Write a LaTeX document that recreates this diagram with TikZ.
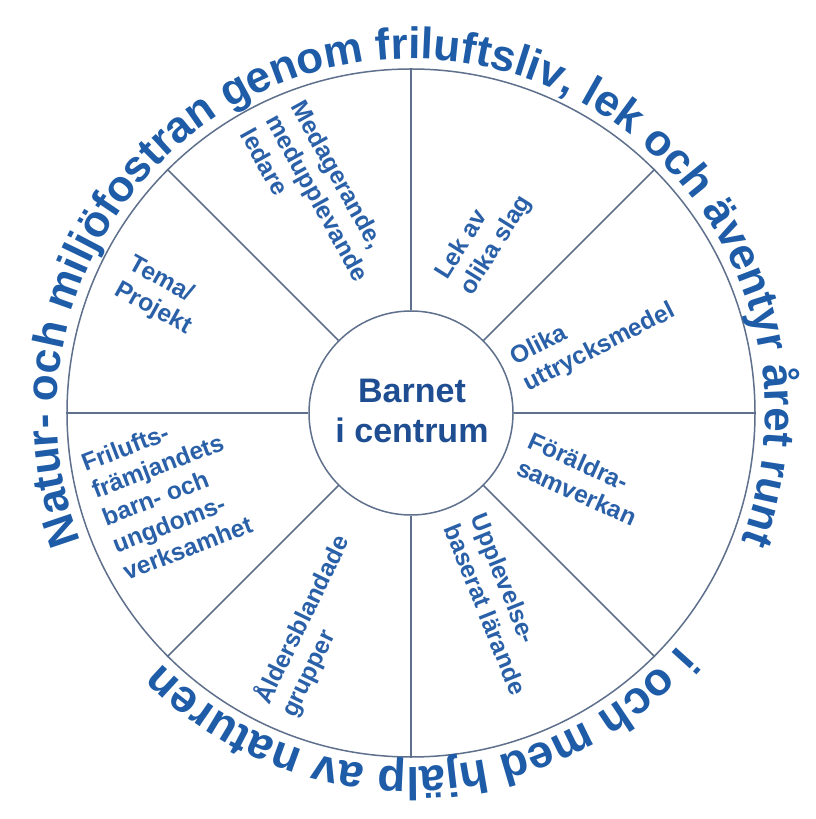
\documentclass[tikz,border=0pt]{standalone}
\usepackage{fontspec}
\setmainfont{Liberation Sans}
\usetikzlibrary{decorations.text}
\definecolor{ringblue}{RGB}{30,92,168}
\definecolor{lblblue}{RGB}{42,96,168}
\definecolor{ctrblue}{RGB}{30,78,145}
\definecolor{linegray}{RGB}{95,112,140}
\begin{document}
\begin{tikzpicture}[x=1pt,y=1pt,
  wheel/.style={circle, draw=linegray, line width=1.5pt, inner sep=0pt},
  spoke/.style={draw=linegray, line width=1.5pt},
  lbl/.style={font=\bfseries\fontsize{24.5}{29}\selectfont, text=lblblue, align=left, inner sep=0pt},
  ctr/.style={font=\bfseries\fontsize{34}{40}\selectfont, text=ctrblue, align=center}
]
\useasboundingbox (0,0) rectangle (815,819);
\fill[white] (0,0) rectangle (815,819);
\coordinate (C) at (411,406);
\node[wheel, minimum size=688pt] (outer) at (C) {};
\node[wheel, minimum size=204pt] (hub) at (C) {};
\node[ctr] (ctrtext) at (412,408) {Barnet\\i centrum};
\foreach \a in {0,45,...,315} \draw[spoke] (hub.\a) -- (outer.\a);

% ring texts
\path[decorate, decoration={text along path, text align=center,
  text={|\bfseries\fontsize{44}{44}\selectfont\color{ringblue}|Natur- och miljöfostran genom friluftsliv, lek och äventyr året runt}}]
  ([shift={(205:354)}]C) arc[start angle=205, end angle=-25, radius=354];
\path[decorate, decoration={text along path, text align=center,
  text={|\bfseries\fontsize{46}{46}\selectfont\color{ringblue}|i och med hjälp av naturen}}]
  ([shift={(-30:354)}]C) arc[start angle=-30, end angle=-146, radius=354];

% sector labels
\node[lbl, rotate=-61] (l1) at (318,621) {Medagerande,\\medupplevande\\ledare};
\node[lbl, rotate=58]  (l2) at (484,581) {Lek av\\olika slag};
\node[lbl, rotate=27]  (l3) at (593,484) {Olika\\uttrycksmedel};
\node[lbl, rotate=-24] (l4) at (583,340) {Föräldra-\\samverkan};
\node[lbl, rotate=-68] (l5) at (499,215) {Upplevelse-\\baserat lärande};
\node[lbl, rotate=64]  (l6) at (315,193) {Åldersblandade\\grupper};
\node[lbl, rotate=21]  (l7) at (168,326) {Frilufts-\\främjandets\\barn- och\\ungdoms-\\verksamhet};
\node[lbl, rotate=-29] (l8) at (160,523) {Tema/\\Projekt};
\end{tikzpicture}
\end{document}
